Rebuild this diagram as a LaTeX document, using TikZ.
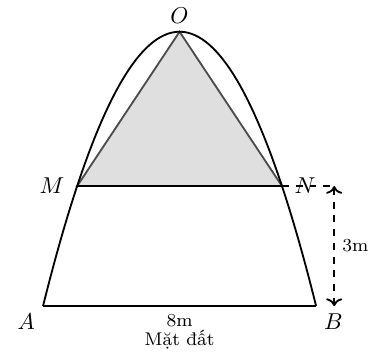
\documentclass[tikz,border=0pt]{standalone}
\usepackage{fontspec}
\usetikzlibrary{arrows.meta,calc}

\begin{document}
\begin{tikzpicture}[x=.523cm,y=.613cm]
\useasboundingbox(-5.26,-1.25)rectangle(5.93,7.65);
\coordinate(A)at(-4,0);\coordinate(B)at(4,0);\coordinate(O)at(0,48/7);
\coordinate(M)at(-3,3);\coordinate(N)at(3,3);\coordinate(P)at(4.53,3);\coordinate(Q)at(4.53,0);
\draw[fill=gray!25,draw=black!70,thick](O)--(M)--(N)--cycle;
\draw[thick](M)--(N);
\draw[thick,domain=-4:4,samples=80]plot(\x,{48/7-3/7*(\x)^2});
\draw[thick](A)--(B);\draw[thick,dashed](A)--(B);
\node(lO)[above]at(O){$O$};\node(lM)[left=2pt]at(M){$M$};\node(lN)[right=2pt]at(N){$N$};
\node(lA)[below left]at(A){$A$};\node(lB)[below right]at(B){$B$};
\draw[thick,dashed](N)--(P);\draw[thick,dashed,<->](P)--(Q);
\node(h)[right,font=\footnotesize]at($(P)!.5!(Q)$){3m};
\node(w)[font=\footnotesize]at(0,-.35){8m};\node(g)[font=\footnotesize]at(0,-.85){Mặt đất};
\end{tikzpicture}
\end{document}
